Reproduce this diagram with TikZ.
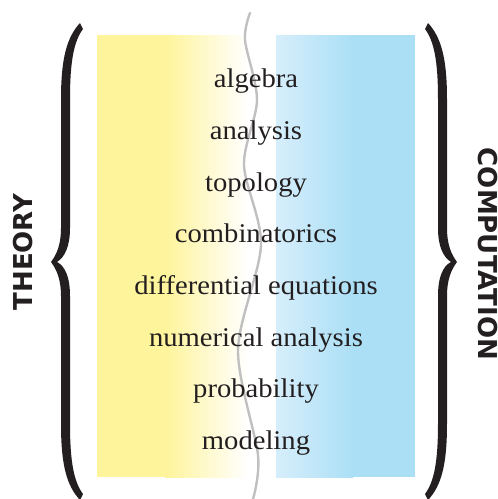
\documentclass[tikz,border=0pt]{standalone}
\usepackage{fontspec}
\setmainfont{Liberation Serif}
\newfontfamily\topicfont[FakeStretch=1.06]{Liberation Serif}
\newfontfamily\sidefont{DejaVu Sans}

\definecolor{bandyellow}{RGB}{254,244,155}
\definecolor{bandblue}{RGB}{171,223,246}
\definecolor{bandpale}{RGB}{214,238,251}
\definecolor{ink}{RGB}{35,31,32}
\definecolor{seam}{RGB}{192,192,192}

% one curly brace, opening to the right
\newcommand{\bracepath}{(80,23) .. controls (67,37) and (61,58) .. (61,99)
  -- (61,228) .. controls (61,244) and (57,254) .. (51,262)
  .. controls (57,270) and (61,280) .. (61,296)
  -- (61,424) .. controls (61,466) and (67,486) .. (80,500)
  -- (83,494) .. controls (74,482) and (70,462) .. (70,424)
  -- (70,296) .. controls (70,277) and (65,266) .. (57,262)
  .. controls (65,257) and (70,246) .. (70,228)
  -- (70,99) .. controls (70,61) and (74,41) .. (83,29) -- cycle}

\begin{document}
\begin{tikzpicture}[x=1pt,y=-1pt,
    topic/.style={font=\topicfont\fontsize{27}{30}\selectfont,text=ink,
      anchor=base,inner sep=0pt},
    side/.style={font=\sidefont\bfseries\fontsize{26}{28}\selectfont,text=ink,
      inner sep=0pt}]

    \useasboundingbox (0,0) rectangle (498,499);

    % yellow band, fading out to the right
    \fill[bandyellow] (97,35) rectangle (166,477);
    \shade[left color=bandyellow,right color=white] (165,35) rectangle (248,477);

    % blue band, fading in from the left
    \shade[left color=bandpale,right color=bandblue] (276,35) rectangle (353,477);
    \fill[bandblue] (352,35) rectangle (415,477);

    % the wavy seam
    \draw[seam,line width=2.4pt,line cap=round] plot[smooth] coordinates {
      (250,13) (245,40) (257,100) (244,165) (261,245) (238,350)
      (258,455) (253,499)};

    % braces
    \fill[ink] \bracepath;
    \begin{scope}[xshift=508pt,xscale=-1]
      \fill[ink] \bracepath;
    \end{scope}

    \path
        (256, 87) node[topic] (algebra)       {algebra}
        (256,139) node[topic] (analysis)      {analysis}
        (256,191) node[topic] (topology)      {topology}
        (256,242) node[topic] (combinatorics) {combinatorics}
        (256,294) node[topic] (diffeq)        {differential equations}
        (256,346) node[topic] (numerical)     {numerical analysis}
        (256,397) node[topic] (probability)   {probability}
        (256,449) node[topic] (modeling)      {modeling};

    \node[side,rotate=90]  (theory)      at (23,252)  {THEORY};
    \node[side,rotate=-90] (computation) at (488,254) {COMPUTATION};
\end{tikzpicture}
\end{document}
